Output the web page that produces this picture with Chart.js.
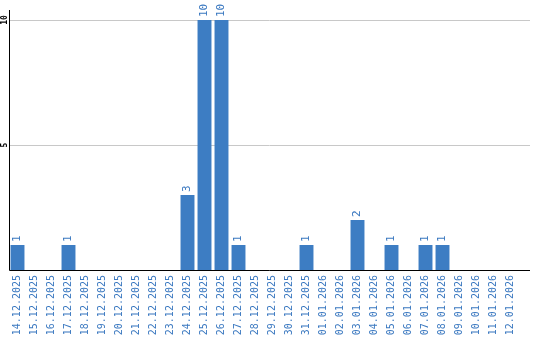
<!DOCTYPE html>
<html>
<head>
<meta charset="utf-8">
<script src="https://cdn.jsdelivr.net/npm/chart.js@4"></script>
<style>
  html, body { margin: 0; padding: 0; background: #fff; }
  #wrap { width: 540px; height: 340px; }
</style>
</head>
<body>
<div id="wrap"><canvas id="dayChart" width="540" height="340"></canvas></div>
<script>
const days = [
    '14.12.2025', '15.12.2025', '16.12.2025', '17.12.2025', '18.12.2025',
    '19.12.2025', '20.12.2025', '21.12.2025', '22.12.2025', '23.12.2025',
    '24.12.2025', '25.12.2025', '26.12.2025', '27.12.2025', '28.12.2025',
    '29.12.2025', '30.12.2025', '31.12.2025', '01.01.2026', '02.01.2026',
    '03.01.2026', '04.01.2026', '05.01.2026', '06.01.2026', '07.01.2026',
    '08.01.2026', '09.01.2026', '10.01.2026', '11.01.2026', '12.01.2026'
];
const counts = [
    1, 0, 0, 1, 0,
    0, 0, 0, 0, 0,
    3, 10, 10, 1, 0,
    0, 0, 1, 0, 0,
    2, 0, 1, 0, 1,
    1, 0, 0, 0, 0
];
const yTicks = [5, 10];
const yMax = 10.4;

const barBlue = '#3d7dc3';
const textBlue = '#3a78c0';
const lineEnd = 530;  // axis and grid lines run a bit past the last bar

// grid + axis lines, drawn before the bars
const linesPlugin = {
    id: 'lines',
    beforeDatasetsDraw(chart) {
        const { ctx, chartArea, scales } = chart;
        ctx.save();
        ctx.lineWidth = 1;
        ctx.strokeStyle = '#c8c8c8';
        yTicks.forEach(v => {
            const y = Math.round(scales.y.getPixelForValue(v)) + 0.5;
            ctx.beginPath();
            ctx.moveTo(chartArea.left, y);
            ctx.lineTo(lineEnd, y);
            ctx.stroke();
        });
        ctx.restore();
    },
    afterDatasetsDraw(chart) {
        const { ctx, chartArea } = chart;
        const x0 = Math.round(chartArea.left) + 0.5;
        const y0 = Math.round(chartArea.bottom) + 0.5;
        ctx.save();
        ctx.lineWidth = 1;
        ctx.strokeStyle = '#000';
        ctx.beginPath();
        ctx.moveTo(x0, chartArea.top);
        ctx.lineTo(x0, y0);
        ctx.lineTo(lineEnd, y0);
        ctx.stroke();
        ctx.restore();
    }
};

// rotated y tick labels
const yLabelPlugin = {
    id: 'yLabels',
    afterDraw(chart) {
        const { ctx, scales } = chart;
        ctx.save();
        ctx.fillStyle = '#000';
        ctx.font = 'bold 8px "DejaVu Sans Mono"';
        ctx.textAlign = 'center';
        ctx.textBaseline = 'middle';
        yTicks.forEach(v => {
            ctx.save();
            ctx.translate(5, scales.y.getPixelForValue(v));
            ctx.rotate(-Math.PI / 2);
            ctx.fillText(String(v), 0, 0);
            ctx.restore();
        });
        ctx.restore();
    }
};

// value labels above the bars, rotated
const valueLabelPlugin = {
    id: 'valueLabels',
    afterDatasetsDraw(chart) {
        const { ctx } = chart;
        const meta = chart.getDatasetMeta(0);
        ctx.save();
        ctx.fillStyle = textBlue;
        ctx.font = '11px "DejaVu Sans Mono"';
        ctx.textAlign = 'left';
        ctx.textBaseline = 'middle';
        meta.data.forEach((bar, i) => {
            const v = counts[i];
            if (!v) return;
            ctx.save();
            ctx.translate(bar.x, bar.y - 3);
            ctx.rotate(-Math.PI / 2);
            ctx.fillText(String(v), 0, 0);
            ctx.restore();
        });
        ctx.restore();
    }
};

const ctx = document.getElementById('dayChart').getContext('2d');
new Chart(ctx, {
    type: 'bar',
    data: {
        labels: days,
        datasets: [{
            data: counts,
            backgroundColor: barBlue,
            borderWidth: 0,
            barPercentage: 0.82,
            categoryPercentage: 1
        }]
    },
    options: {
        responsive: false,
        animation: false,
        layout: {
            padding: { left: 9, right: 21, top: 10, bottom: 0 }
        },
        scales: {
            x: {
                grid: { display: false, drawTicks: false },
                border: { display: false },
                ticks: {
                    color: textBlue,
                    font: { family: 'DejaVu Sans Mono', size: 10 },
                    minRotation: 90,
                    maxRotation: 90,
                    autoSkip: false,
                    padding: 5
                },
                afterFit(scale) {
                    scale.height = 70;
                }
            },
            y: {
                min: 0,
                max: yMax,
                grid: { display: false, drawTicks: false },
                border: { display: false },
                ticks: { display: false },
                afterFit(scale) {
                    scale.width = 0;
                }
            }
        },
        plugins: {
            legend: { display: false },
            tooltip: { enabled: false }
        }
    },
    plugins: [linesPlugin, yLabelPlugin, valueLabelPlugin]
});
</script>
</body>
</html>
